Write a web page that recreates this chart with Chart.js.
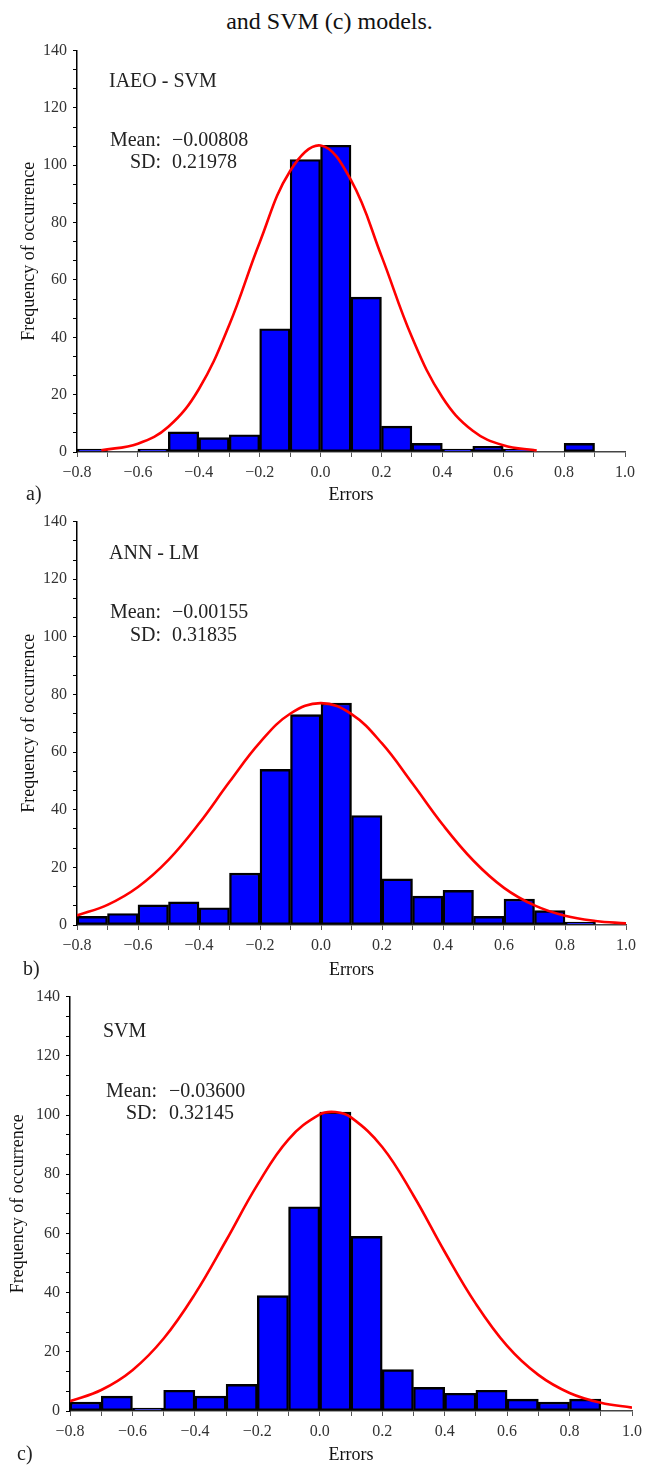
<!DOCTYPE html>
<html>
<head>
<meta charset="utf-8">
<script src="https://cdn.jsdelivr.net/npm/chart.js@4.4.1/dist/chart.umd.min.js"></script>
<style>
  body { margin: 0; background: #fff; width: 659px; height: 1466px; position: relative; overflow: hidden; font-family: "Liberation Serif", serif; }
  canvas { position: absolute; left: 0; }
  .lbl { position: absolute; font-size: 20px; line-height: 20px; color: #222; }
  #title { position: absolute; top: 9px; left: 0; width: 659px; text-align: center; font-size: 24px; line-height: 24px; color: #111; }
</style>
</head>
<body>
<div id="title">and SVM (c) models.</div>
<canvas id="chartA" width="659" height="471" style="top:35px"></canvas>
<canvas id="chartB" width="659" height="475" style="top:506px"></canvas>
<canvas id="chartC" width="659" height="485" style="top:981px"></canvas>
<div class="lbl" style="left:26px;top:483px">a)</div>
<div class="lbl" style="left:23px;top:958px">b)</div>
<div class="lbl" style="left:17px;top:1443px">c)</div>

<script>
// Centros das classes do histograma (largura 0.1)
const binCenters = [-0.75, -0.65, -0.55, -0.45, -0.35, -0.25, -0.15, -0.05, 0.05, 0.15, 0.25, 0.35, 0.45, 0.55, 0.65, 0.75, 0.85];

// Frequências
const countsA = [1, 0, 1, 7, 5, 6, 43, 102, 107, 54, 9, 3, 1, 2, 1, 0, 3];
const countsB = [3, 4, 7, 8, 6, 18, 54, 73, 77, 38, 16, 10, 12, 3, 9, 5, 1];
const countsC = [3, 5, 1, 7, 5, 9, 39, 69, 101, 59, 14, 8, 6, 7, 4, 3, 4];

// Curvas normais
const curveAx = [-0.72, -0.6, -0.5, -0.4, -0.3, -0.2, -0.1, 0, 0.1, 0.2, 0.3, 0.4, 0.5, 0.6, 0.71];
const curveAy = [0.6, 2.9, 8.8, 21.9, 44.3, 73.1, 98.0, 106.9, 94.8, 68.4, 40.1, 19.1, 7.4, 2.35, 0.5];

const curveBx = [-0.8, -0.7, -0.6, -0.5, -0.4, -0.3, -0.2, -0.1, 0, 0.1, 0.2, 0.3, 0.4, 0.5, 0.6, 0.7, 0.8, 0.9, 1.0];
const curveBy = [3.3, 7.0, 13.2, 22.6, 35.2, 49.7, 63.4, 73.4, 77, 73.2, 63.0, 49.1, 34.7, 22.3, 12.9, 6.8, 3.2, 1.4, 0.55];

const curveCx = [-0.8, -0.7, -0.6, -0.5, -0.4, -0.3, -0.2, -0.1, 0, 0.05, 0.1, 0.2, 0.3, 0.4, 0.5, 0.6, 0.7, 0.8, 0.9, 1.0];
const curveCy = [3.3, 7.1, 13.8, 24.5, 39.5, 57.6, 76.4, 91.8, 100.2, 101, 99.2, 89.2, 72.8, 53.8, 36.2, 22.0, 12.2, 6.1, 2.8, 1.15];

// Rótulos dos eixos
const yMajor = [0, 20, 40, 60, 80, 100, 120, 140];
const xMin = -0.8;
const xMax = 1.0;

const fmtX = function (v) {
  const r = Math.round(v * 10) / 10;
  return (r < 0 ? "\u2212" : "") + Math.abs(r).toFixed(1);
};

// Plugin para os textos dentro do gráfico
const notesPlugin = {
  id: "notes",
  afterDatasetsDraw(chart, args, o) {
    const c = chart.ctx;
    c.save();
    c.fillStyle = "#222";
    c.font = '20px "Liberation Serif"';
    c.textBaseline = "alphabetic";
    o.items.forEach((t) => {
      c.textAlign = t.align || "left";
      c.fillText(t.text, t.x, t.y);
    });
    c.restore();
  },
};

const makeChart = function (id, counts, cx, cy, opt) {
  const font = { family: "Liberation Serif", size: 16 };
  return new Chart(document.getElementById(id), {
    type: "bar",
    plugins: [notesPlugin],
    data: {
      datasets: [
        {
          type: "line",
          data: cx.map((x, i) => ({ x: x, y: cy[i] })),
          borderColor: "#ff0000",
          borderWidth: 2.6,
          pointRadius: 0,
          tension: 0.4,
          fill: false,
          order: 1,
        },
        {
          type: "bar",
          data: binCenters.map((x, i) => ({ x: x, y: counts[i] })),
          backgroundColor: "#0000ff",
          borderColor: "#000",
          borderWidth: 2.4,
          borderSkipped: false,
          barPercentage: 1,
          categoryPercentage: 1,
          order: 2,
        },
      ],
    },
    options: {
      responsive: false,
      animation: false,
      layout: { padding: { top: opt.padTop, right: opt.padRight, left: 0, bottom: 0 } },
      plugins: {
        legend: { display: false },
        tooltip: { enabled: false },
        notes: { items: opt.notes },
      },
      scales: {
        x: {
          type: "linear",
          min: xMin,
          max: xMax,
          offset: false,
          grid: { offset: false, drawOnChartArea: false, drawTicks: true, tickLength: 5, color: "#555" },
          border: { display: true, color: "#444", width: 1.5 },
          ticks: {
            stepSize: 0.1,
            autoSkip: false,
            maxRotation: 0,
            padding: 6,
            color: "#333",
            font: font,
            callback: (v) => (Math.round(v * 10) % 2 === 0 ? fmtX(v) : ""),
          },
          title: { display: true, text: "Errors", color: "#111", padding: 0, font: { family: "Liberation Serif", size: 18 } },
          afterFit: (s) => {
            s.height = opt.xHeight;
          },
        },
        y: {
          min: 0,
          max: 140,
          afterBuildTicks: (s) => {
            const t = [];
            for (let i = 0; i < yMajor.length; i++) {
              t.push({ value: yMajor[i] });
              if (i < yMajor.length - 1) {
                const step = (yMajor[i + 1] - yMajor[i]) / 3;
                t.push({ value: yMajor[i] + step }, { value: yMajor[i] + 2 * step });
              }
            }
            s.ticks = t;
          },
          grid: { drawOnChartArea: false, drawTicks: true, tickLength: 4, color: "#000" },
          border: { display: true, color: "#000", width: 1.5 },
          ticks: {
            autoSkip: false,
            padding: 6,
            color: "#333",
            font: font,
            callback: (v) => (yMajor.some((m) => Math.abs(m - v) < 1e-6) ? String(Math.round(v)) : ""),
          },
          title: {
            display: true,
            text: "Frequency of occurrence",
            color: "#111",
            padding: { top: opt.yTitlePad, bottom: 0 },
            font: { family: "Liberation Serif", size: 18 },
          },
          afterFit: (s) => {
            s.width = opt.yWidth;
          },
        },
      },
    },
  });
};

makeChart("chartA", countsA, curveAx, curveAy, {
  padTop: 10, padRight: 34, xHeight: 54, yWidth: 77, yTitlePad: 18,
  notes: [
    { text: "IAEO - SVM", x: 109, y: 52 },
    { text: "Mean:", x: 161, y: 111, align: "right" },
    { text: "\u22120.00808", x: 172, y: 111 },
    { text: "SD:", x: 161, y: 133, align: "right" },
    { text: "0.21978", x: 172, y: 133 },
  ],
});

makeChart("chartB", countsB, curveBx, curveBy, {
  padTop: 11, padRight: 33, xHeight: 56, yWidth: 77, yTitlePad: 18,
  notes: [
    { text: "ANN - LM", x: 109, y: 53 },
    { text: "Mean:", x: 161, y: 112, align: "right" },
    { text: "\u22120.00155", x: 172, y: 112 },
    { text: "SD:", x: 161, y: 135, align: "right" },
    { text: "0.31835", x: 172, y: 135 },
  ],
});

makeChart("chartC", countsC, curveCx, curveCy, {
  padTop: 14, padRight: 27, xHeight: 55, yWidth: 70, yTitlePad: 7,
  notes: [
    { text: "SVM", x: 103, y: 56 },
    { text: "Mean:", x: 157, y: 116, align: "right" },
    { text: "\u22120.03600", x: 169, y: 116 },
    { text: "SD:", x: 157, y: 138, align: "right" },
    { text: "0.32145", x: 169, y: 138 },
  ],
});
</script>
</body>
</html>
